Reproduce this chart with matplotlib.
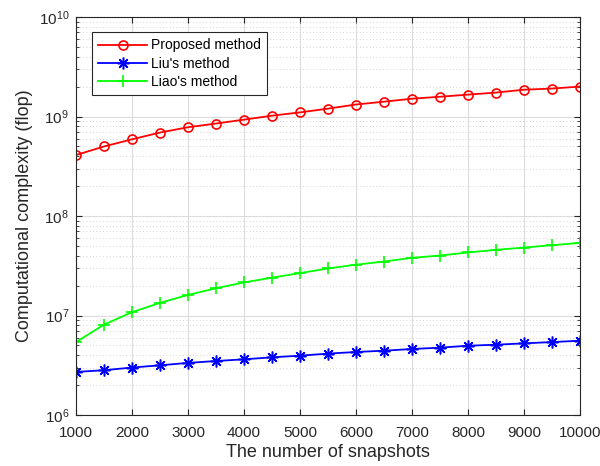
import numpy as np
import matplotlib.pyplot as plt
from matplotlib.ticker import LogLocator, NullFormatter

plt.rcParams['font.family'] = ['Liberation Sans', 'DejaVu Sans']

snapshots = [1000, 1500, 2000, 2500, 3000, 3500, 4000, 4500, 5000, 5500,
             6000, 6500, 7000, 7500, 8000, 8500, 9000, 9500, 10000]

# computational complexity (flop)
proposed = [4.1e8, 5.0e8, 5.9e8, 6.9e8, 7.8e8, 8.5e8, 9.3e8, 1.02e9, 1.10e9, 1.20e9,
            1.32e9, 1.41e9, 1.51e9, 1.58e9, 1.66e9, 1.74e9, 1.86e9, 1.91e9, 2.0e9]
liu = [2.71e6, 2.82e6, 3.0e6, 3.16e6, 3.34e6, 3.49e6, 3.63e6, 3.80e6, 3.95e6, 4.14e6,
       4.30e6, 4.43e6, 4.61e6, 4.75e6, 4.97e6, 5.09e6, 5.25e6, 5.41e6, 5.58e6]
liao = [5.4e6, 8.1e6, 1.08e7, 1.34e7, 1.61e7, 1.88e7, 2.15e7, 2.40e7, 2.67e7, 2.97e7,
        3.24e7, 3.49e7, 3.80e7, 4.01e7, 4.30e7, 4.57e7, 4.82e7, 5.09e7, 5.37e7]

xticks = [1000, 2000, 3000, 4000, 5000, 6000, 7000, 8000, 9000, 10000]

fig = plt.figure(figsize=(6.0, 4.66), dpi=100)
ax = fig.add_axes([0.1267, 0.1094, 0.84, 0.8541])

ax.plot(snapshots, proposed, '-o', color='red', lw=1.3, ms=6.5, mfc='none', mew=1.2,
        label='Proposed method')
ax.plot(snapshots, liu, '-', marker=(8, 2, 0), color='blue', lw=1.3, ms=8.5, mew=1.1,
        label="Liu's method")
ax.plot(snapshots, liao, '-+', color='#00ff00', lw=1.3, ms=9, mew=1.2,
        label="Liao's method")

ax.set_yscale('log')
ax.set_xlim(1000, 10000)
ax.set_ylim(1e6, 1e10)
ax.set_xticks(xticks)
ax.set_xticklabels([str(v) for v in xticks])
ax.yaxis.set_major_locator(LogLocator(base=10, numticks=10))
ax.yaxis.set_minor_locator(LogLocator(base=10, subs=np.arange(2, 10), numticks=20))
ax.yaxis.set_minor_formatter(NullFormatter())

edge = '#262626'
for s in ax.spines.values():
    s.set_color(edge)
    s.set_linewidth(0.8)
ax.tick_params(which='both', direction='in', top=True, right=True, colors=edge,
               labelcolor='#262626', labelsize=11)
ax.tick_params(which='major', length=4)
ax.tick_params(which='minor', length=2.5)
ax.tick_params(axis='x', pad=8)
ax.tick_params(axis='y', pad=5)

ax.grid(True, which='major', color='#dcdcdc', lw=0.8, ls='-')
ax.grid(True, which='minor', axis='y', color='#c8c8c8', lw=0.6, ls=(0, (1, 3)))
ax.set_axisbelow(True)

ax.set_xlabel('The number of snapshots', fontsize=13, color='#262626', labelpad=3)
ax.set_ylabel('Computational complexity (flop)', fontsize=13, color='#262626', labelpad=4)

leg = ax.legend(loc='upper left', bbox_to_anchor=(0.032, 0.962), borderaxespad=0,
                fontsize=10, fancybox=False, framealpha=1, edgecolor='#262626',
                handlelength=3.5, borderpad=0.45, labelspacing=0.3, handletextpad=0.3)
leg.get_frame().set_linewidth(0.8)

plt.savefig('out.png', dpi=100)
